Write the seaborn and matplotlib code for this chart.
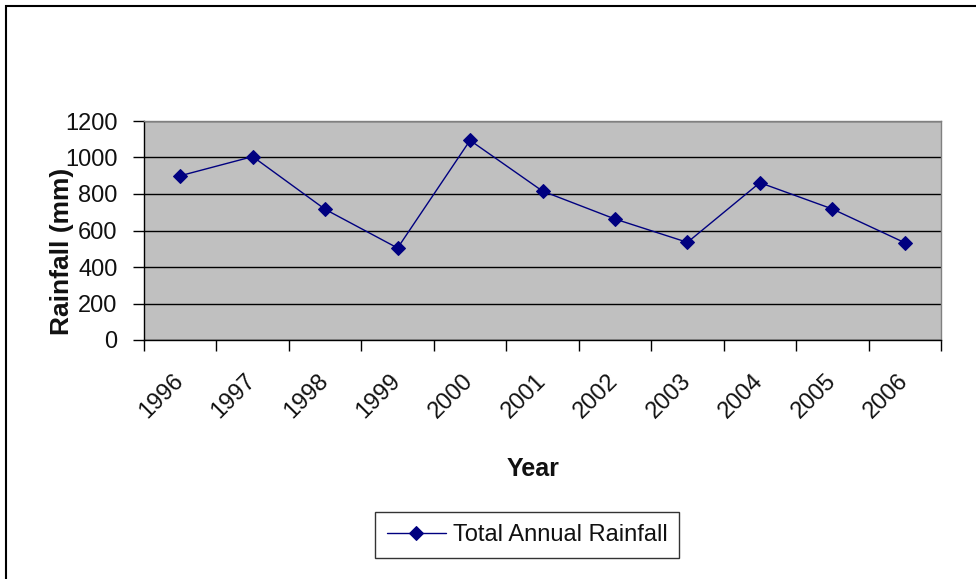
import matplotlib
matplotlib.use("Agg")
import matplotlib.pyplot as plt
from matplotlib.patches import Rectangle
from matplotlib.ticker import FixedLocator, NullFormatter
import seaborn as sns
import pandas as pd

years = ["1996", "1997", "1998", "1999", "2000", "2001", "2002", "2003", "2004", "2005", "2006"]
rainfall = [900, 1005, 716, 504, 1094, 816, 663, 535, 862, 718, 533]
y_ticks = [0, 200, 400, 600, 800, 1000, 1200]
series_name = "Total Annual Rainfall"

df = pd.DataFrame({"Year": years, "Rainfall": rainfall})

sns.set_theme(style="white")
plt.rcParams["font.family"] = ["Liberation Sans", "DejaVu Sans"]

fig = plt.figure(figsize=(9.76, 5.79), dpi=100)
fig.patch.set_facecolor("white")
ax = fig.add_axes([144 / 976, 1 - 340 / 579, (941 - 144) / 976, (340 - 121) / 579])
ax.set_facecolor("#C0C0C0")

sns.lineplot(data=df, x="Year", y="Rainfall", ax=ax, color="#000080",
             linewidth=1.0, marker="D", markersize=7.5,
             markerfacecolor="#000080", markeredgecolor="#000080",
             label=series_name, legend=False)

n = len(years)
ax.set_xlim(-0.5, n - 0.5)
ax.set_ylim(0, 1200)
ax.set_yticks(y_ticks)
ax.set_yticklabels([str(v) for v in y_ticks], fontsize=17, color="#111111")

# tick marks sit between categories, labels centred on each category
ax.xaxis.set_major_locator(FixedLocator([i - 0.5 for i in range(n + 1)]))
ax.xaxis.set_major_formatter(NullFormatter())
ax.xaxis.set_minor_locator(FixedLocator(list(range(n))))
ax.set_xticklabels(years, minor=True, fontsize=17, rotation=45, ha="right", va="center",
                   rotation_mode="anchor", color="#111111")
ax.tick_params(axis="x", which="major", direction="out", length=8, width=1, color="black", bottom=True)
ax.tick_params(axis="x", which="minor", length=0, pad=27, bottom=True)
ax.tick_params(axis="y", direction="out", length=8, width=1, color="black", left=True, pad=11)

ax.yaxis.grid(True, color="black", linewidth=1)
ax.xaxis.grid(False)
ax.set_axisbelow(True)

for side in ["left", "bottom"]:
    ax.spines[side].set_color("black")
    ax.spines[side].set_linewidth(1)
for side in ["top", "right"]:
    ax.spines[side].set_color("#808080")
    ax.spines[side].set_linewidth(1)

ax.set_xlabel("Year", fontsize=18, fontweight="bold", va="center", color="#111111")
ax.xaxis.set_label_coords(0.488, -0.589)
ax.set_ylabel("Rainfall (mm)", fontsize=19, fontweight="bold", va="center", color="#111111")
ax.yaxis.set_label_coords(-0.103, 0.406)

handles, labels = ax.get_legend_handles_labels()
leg = fig.legend(handles, labels, loc="center", bbox_to_anchor=(527 / 976, 1 - 535 / 579),
                 frameon=True, fancybox=False, fontsize=17, handlelength=2.5,
                 handletextpad=0.3, borderpad=0.5, edgecolor="black", labelcolor="#111111")
leg.get_frame().set_linewidth(1)

# outer chart frame
fig.patches.append(Rectangle((6 / 976, -0.1), 1.2, 1.1 - 6 / 579, transform=fig.transFigure,
                             fill=False, edgecolor="black", linewidth=1.5))

fig.savefig("out.png", dpi=100, facecolor="white")
